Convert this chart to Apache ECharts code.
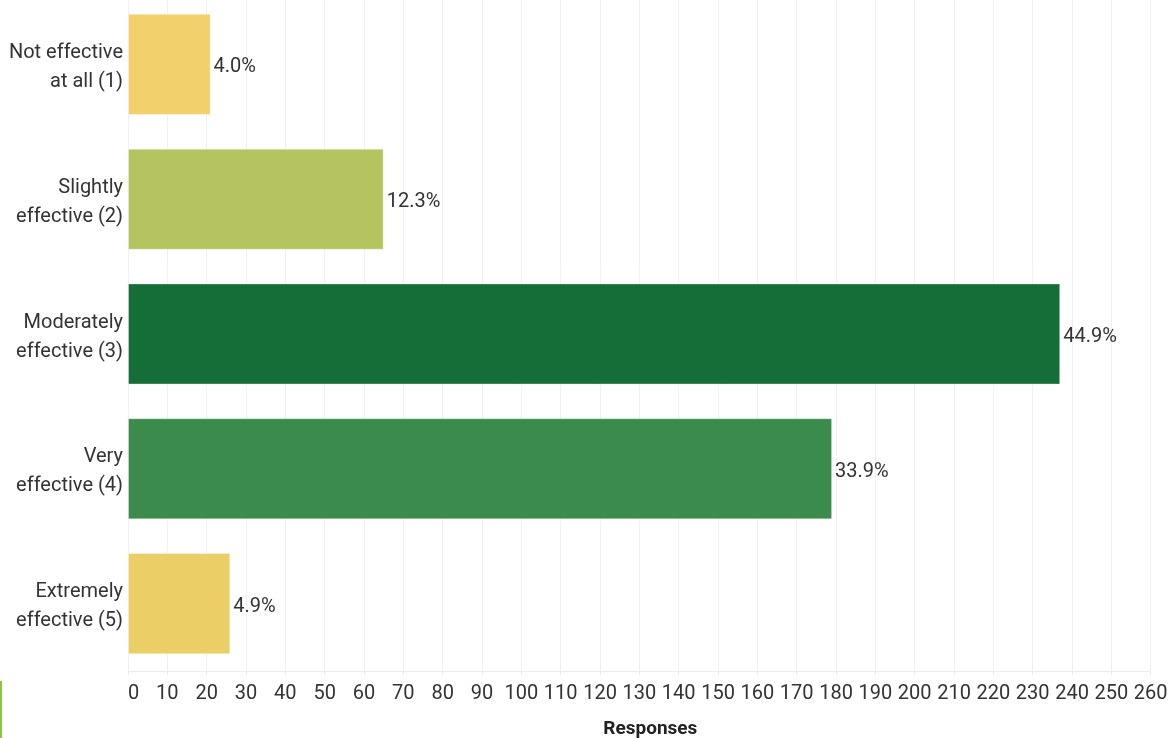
<!DOCTYPE html>
<html>
<head>
<meta charset="utf-8">
<script src="https://cdn.jsdelivr.net/npm/echarts@6/dist/echarts.min.js"></script>
<style>
html,body{margin:0;padding:0;background:#fff;}
#chart{width:1169px;height:738px;}
</style>
</head>
<body>
<div id="chart"></div>
<script>
var categories = ["Not effective\nat all (1)", "Slightly\neffective (2)", "Moderately\neffective (3)", "Very\neffective (4)", "Extremely\neffective (5)"];
var responses = [21, 65, 237, 179, 26];
var barColors = ["#f2d06c", "#b5c45e", "#156d38", "#3b8c4c", "#eacf67"];
var axisTicks = { min: 0, max: 260, interval: 10 };
var axisTitle = "Responses";

var total = responses.reduce(function (a, b) { return a + b; }, 0);
var FONT = "Roboto, 'Open Sans', sans-serif";

var chart = echarts.init(document.getElementById('chart'), null, { renderer: 'canvas' });
chart.setOption({
  animation: false,
  backgroundColor: '#ffffff',
  grid: { left: 128, right: 18.3, top: -3, bottom: 67, containLabel: false, outerBoundsMode: 'none' },
  xAxis: {
    type: 'value',
    min: axisTicks.min,
    max: axisTicks.max,
    interval: axisTicks.interval,
    name: axisTitle,
    nameLocation: 'middle',
    nameGap: 49,
    nameTextStyle: { fontFamily: FONT, fontSize: 19, fontWeight: 'bold', color: '#222', padding: [0, 0, 0, 22] },
    axisLine: { show: true, lineStyle: { color: '#ececec', width: 1 } },
    axisTick: { show: true, length: 4, lineStyle: { color: '#ececec' } },
    splitLine: { show: true, lineStyle: { color: '#f0f0f0', width: 1 } },
    axisLabel: { fontFamily: FONT, fontSize: 20, color: '#333', margin: 13, alignMinLabel: 'left' }
  },
  yAxis: {
    type: 'category',
    inverse: true,
    data: categories,
    axisLine: { show: false },
    axisTick: { show: false },
    splitLine: { show: false },
    axisLabel: {
      fontFamily: FONT, fontSize: 20, color: '#333', margin: 5, align: 'right',
      formatter: function (v) {
        return '{s| }\n' + v.split('\n').map(function (l) { return '{a|' + l + '}'; }).join('\n');
      },
      rich: {
        s: { fontSize: 1, lineHeight: 6 },
        a: { fontFamily: FONT, fontSize: 20, color: '#333', lineHeight: 29 }
      }
    }
  },
  series: [{
    type: 'bar',
    barWidth: '75%',
    data: responses.map(function (v, i) {
      return { value: v, itemStyle: { color: barColors[i], borderColor: 'rgba(255,255,255,0.35)', borderWidth: 1 } };
    }),
    label: {
      show: true,
      position: 'right',
      distance: 3,
      offset: [0, 3],
      fontFamily: FONT,
      fontSize: 20,
      color: '#333',
      formatter: function (p) { return (p.value / total * 100).toFixed(1) + '%'; }
    }
  }],
  graphic: [{
    type: 'rect',
    left: 0,
    top: 681,
    shape: { width: 2, height: 57 },
    style: { fill: '#8cc63e' }
  }]
});
</script>
</body>
</html>
